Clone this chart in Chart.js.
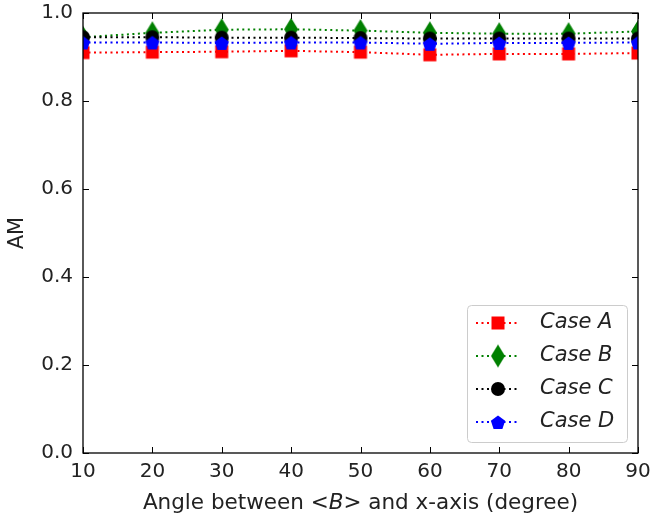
<!DOCTYPE html>
<html lang="en">
<head>
<meta charset="UTF-8">
<title>AM vs angle</title>
<script src="https://cdn.jsdelivr.net/npm/chart.js"></script>
<style>
  html, body { margin: 0; padding: 0; background: #fff; }
  #wrap { width: 651px; height: 519px; }
</style>
</head>
<body>
<div id="wrap"><canvas id="amChart"></canvas></div>
<script>
const angles = [10, 20, 30, 40, 50, 60, 70, 80, 90];
const caseA = [0.910, 0.911, 0.912, 0.914, 0.911, 0.905, 0.907, 0.907, 0.909];
const caseB = [0.945, 0.955, 0.962, 0.963, 0.960, 0.955, 0.953, 0.953, 0.958];
const caseC = [0.945, 0.945, 0.944, 0.944, 0.943, 0.942, 0.942, 0.942, 0.942];
const caseD = [0.933, 0.933, 0.932, 0.933, 0.933, 0.930, 0.932, 0.932, 0.933];
const caseNames = ['Case A', 'Case B', 'Case C', 'Case D'];
const yTicks = [0, 0.2, 0.4, 0.6, 0.8, 1.0];

const FONT = '"DejaVu Sans", sans-serif';
const TXT = '#222';

// marker images, drawn once and used as pointStyle
function makeMarker(shape, color) {
  const c = document.createElement('canvas');
  const w = 16, h = shape === 'diamond' ? 25 : 16;
  c.width = w; c.height = h;
  const g = c.getContext('2d');
  const cx = w / 2, cy = h / 2;
  g.fillStyle = color;
  g.beginPath();
  if (shape === 'square') {
    g.rect(cx - 6.5, cy - 6.5, 13, 13);
  } else if (shape === 'diamond') {
    g.moveTo(cx, cy - 11.5); g.lineTo(cx + 7, cy); g.lineTo(cx, cy + 11.5); g.lineTo(cx - 7, cy);
  } else if (shape === 'circle') {
    g.arc(cx, cy, 7, 0, Math.PI * 2);
  } else {
    for (let i = 0; i < 5; i++) {
      const a = -Math.PI / 2 + i * 2 * Math.PI / 5;
      const px = cx + 7.5 * Math.cos(a), py = cy + 1 + 7.5 * Math.sin(a);
      i ? g.lineTo(px, py) : g.moveTo(px, py);
    }
  }
  g.closePath();
  g.fill();
  return c;
}

const colors = ['#ff0000', '#008000', '#000000', '#0000ff'];
const markers = [
  makeMarker('square', colors[0]),
  makeMarker('diamond', colors[1]),
  makeMarker('circle', colors[2]),
  makeMarker('pentagon', colors[3])
];
const series = [caseA, caseB, caseC, caseD];

const datasets = series.map((vals, i) => ({
  label: caseNames[i],
  data: angles.map((a, j) => ({ x: a, y: vals[j] })),
  borderColor: colors[i],
  borderWidth: 2,
  borderDash: [2, 3.5],
  pointStyle: markers[i],
  pointRadius: 7,
  pointHoverRadius: 7,
  fill: false,
  tension: 0,
  order: 4 - i
}));

// frame + inward ticks on all four sides, x title with italic B
const framePlugin = {
  id: 'frame',
  afterDatasetsDraw(chart) {
    const { ctx, chartArea: a, scales } = chart;
    ctx.save();
    ctx.strokeStyle = '#000';
    ctx.lineWidth = 1.3;
    ctx.strokeRect(a.left, a.top, a.right - a.left, a.bottom - a.top);
    ctx.lineWidth = 1;
    const len = 6;
    ctx.beginPath();
    scales.x.ticks.forEach(t => {
      const px = Math.round(scales.x.getPixelForValue(t.value)) + 0.5;
      ctx.moveTo(px, a.bottom); ctx.lineTo(px, a.bottom - len);
      ctx.moveTo(px, a.top); ctx.lineTo(px, a.top + len);
    });
    scales.y.ticks.forEach(t => {
      const py = Math.round(scales.y.getPixelForValue(t.value)) + 0.5;
      ctx.moveTo(a.left, py); ctx.lineTo(a.left + len, py);
      ctx.moveTo(a.right, py); ctx.lineTo(a.right - len, py);
    });
    ctx.stroke();
    ctx.restore();
  },
  afterDraw(chart) {
    const { ctx, chartArea: a } = chart;
    const parts = [
      ['Angle between <', 'normal'],
      ['B', 'italic'],
      ['> and x-axis (degree)', 'normal']
    ];
    ctx.save();
    ctx.fillStyle = TXT;
    ctx.textBaseline = 'middle';
    let total = 0;
    parts.forEach(p => { ctx.font = p[1] + ' 21.5px ' + FONT; total += ctx.measureText(p[0]).width; });
    let x = (a.left + a.right) / 2 - total / 2;
    const y = 503;
    parts.forEach(p => {
      ctx.font = p[1] + ' 21.5px ' + FONT;
      ctx.fillText(p[0], x, y);
      x += ctx.measureText(p[0]).width;
    });
    ctx.restore();
  }
};

const legendPlugin = {
  id: 'caseLegend',
  afterDraw(chart) {
    const { ctx, chartArea: a } = chart;
    const boxW = 160, boxH = 137;
    const x0 = a.right - 11 - boxW, y0 = a.bottom - 11 - boxH;
    ctx.save();
    ctx.fillStyle = 'rgba(255,255,255,0.8)';
    ctx.strokeStyle = '#cccccc';
    ctx.lineWidth = 1;
    ctx.beginPath();
    ctx.roundRect(x0 + 0.5, y0 + 0.5, boxW, boxH, 4);
    ctx.fill();
    ctx.stroke();
    caseNames.forEach((name, i) => {
      const y = y0 + 18 + i * 33;
      ctx.strokeStyle = colors[i];
      ctx.lineWidth = 2;
      ctx.setLineDash([2, 3.5]);
      ctx.beginPath();
      ctx.moveTo(x0 + 9, y); ctx.lineTo(x0 + 53, y);
      ctx.stroke();
      ctx.setLineDash([]);
      const m = markers[i];
      ctx.drawImage(m, x0 + 31 - m.width / 2, y - m.height / 2);
      ctx.fillStyle = TXT;
      ctx.font = 'italic 21px ' + FONT;
      ctx.textBaseline = 'middle';
      ctx.fillText(name, x0 + 73, y);
    });
    ctx.restore();
  }
};

new Chart(document.getElementById('amChart'), {
  type: 'line',
  data: { datasets },
  options: {
    responsive: true,
    maintainAspectRatio: false,
    animation: false,
    layout: { padding: { top: 13, right: 13, left: 0, bottom: 0 } },
    plugins: { legend: { display: false }, tooltip: { enabled: false } },
    scales: {
      x: {
        type: 'linear',
        min: 10, max: 90,
        grid: { display: false, drawTicks: false },
        border: { display: false },
        ticks: { stepSize: 10, padding: 7, color: TXT, font: { family: FONT, size: 20 } },
        afterFit: s => { s.height = 66; s.paddingLeft = 0; s.paddingRight = 0; }
      },
      y: {
        min: 0, max: 1,
        grid: { display: false, drawTicks: false },
        border: { display: false },
        afterBuildTicks: s => { s.ticks = yTicks.map(v => ({ value: v })); },
        ticks: { padding: 10, color: TXT, font: { family: FONT, size: 20 }, callback: v => v.toFixed(1) },
        title: { display: true, text: 'AM', color: TXT, font: { family: FONT, size: 21 }, padding: { top: 5, bottom: 0 } },
        afterFit: s => { s.width = 83; s.paddingTop = 0; s.paddingBottom = 0; }
      }
    }
  },
  plugins: [framePlugin, legendPlugin]
});
</script>
</body>
</html>
